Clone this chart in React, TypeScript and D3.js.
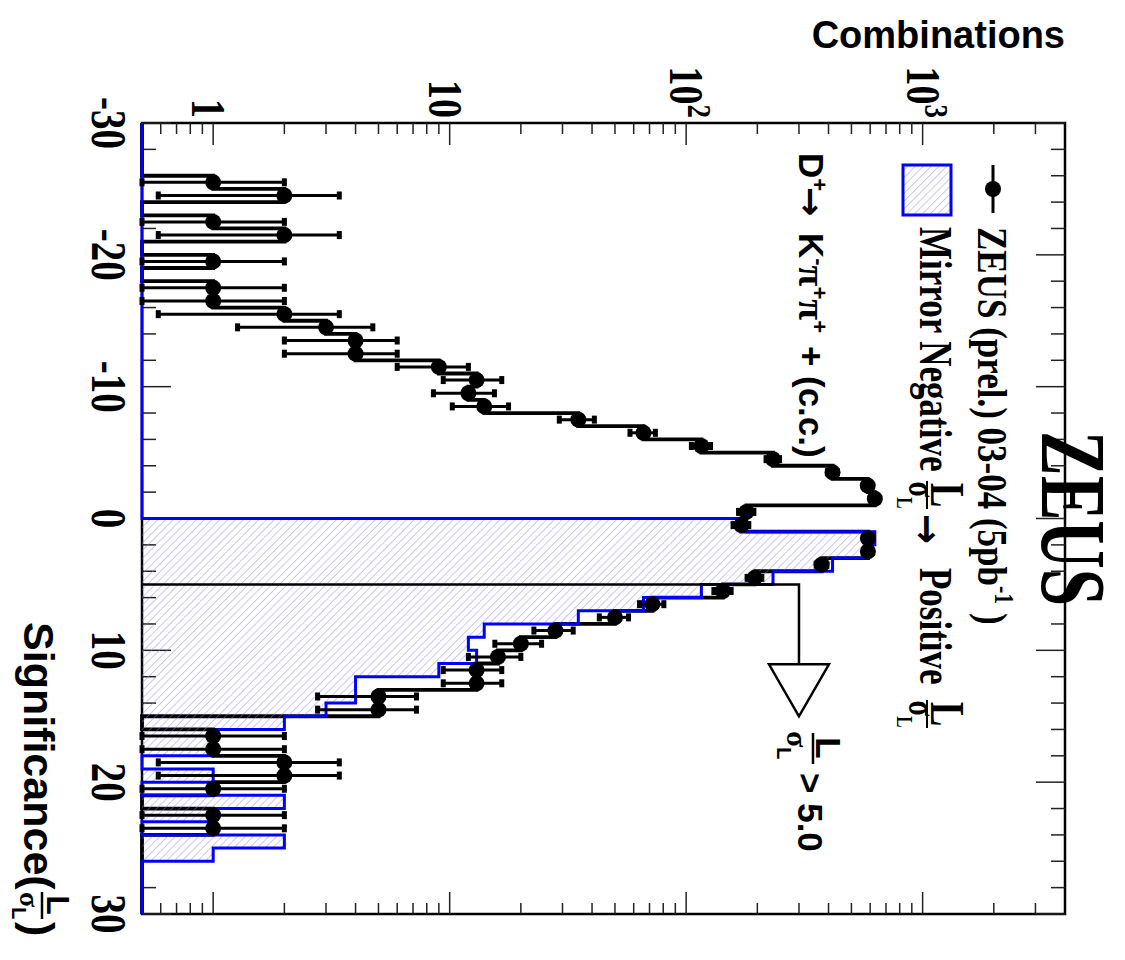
import React from "react";
import * as d3 from "d3";

// ---------------- data ----------------
// 60 bins of width 1 in significance L/sigma_L, from -30 to 30 (low edges)
const binLow = d3.range(-30, 30, 1);
// ZEUS (prel.) 03-04 combinations per bin
const zeusCounts = [
  0, 0, 0, 0, 1, 2, 0, 1, 2, 0,
  1, 0, 1, 1, 2, 3, 4, 4, 9, 13,
  12, 14, 35, 66, 116, 233, 416, 586, 628, 180,
  171, 587, 587, 374, 195, 143, 72, 50, 28, 20,
  16, 13, 13, 5, 5, 0, 1, 1, 2, 2,
  1, 0, 1, 1, 0, 0, 0, 0, 0, 0,
];
// Mirrored negative L/sigma_L distribution
const mirrorCounts = [
  0, 0, 0, 0, 0, 0, 0, 0, 0, 0,
  0, 0, 0, 0, 0, 0, 0, 0, 0, 0,
  0, 0, 0, 0, 0, 0, 0, 0, 0, 0,
  180, 628, 586, 416, 233, 116, 66, 35, 14, 12,
  13, 9, 4, 4, 3, 2, 1, 1, 0, 1,
  0, 2, 1, 0, 2, 1, 0, 0, 0, 0,
];
const sigTicks = d3.range(-30, 31, 2);
const sigLabels = [-30, -20, -10, 0, 10, 20, 30];
const logMajor = [1, 10, 100, 1000];
const logMinor = [0.6, 0.7, 0.8, 0.9, 2, 3, 4, 5, 6, 7, 8, 9, 20, 30, 40, 50, 60, 70, 80, 90,
  200, 300, 400, 500, 600, 700, 800, 900, 2000, 3000];
const logLabels = [
  { v: 1, base: "1", exp: "" },
  { v: 10, base: "10", exp: "" },
  { v: 100, base: "10", exp: "2" },
  { v: 1000, base: "10", exp: "3" },
];
const cutSig = 5.0;
const cutArrowTipSig = 15;
const cutArrowCount = 300;

// ---------------- layout ----------------
const X0 = 142, X1 = 1065, Y0 = 123, Y1 = 914;
const x = d3.scaleLog().domain([0.5, 4000]).range([X0, X1]);
const y = d3.scaleLinear().domain([-30, 30]).range([Y0, Y1]);
const xv = (c: number) => (c > 0.5 ? x(c) : X0);

const serif = "'Liberation Serif', 'DejaVu Serif', serif";
const sans = "'Liberation Sans', Arial, 'DejaVu Sans', sans-serif";
const arrowFont = "'DejaVu Sans', sans-serif";

function stepPoints(counts: number[]): [number, number][] {
  const pts: [number, number][] = [[X0, y(binLow[0])]];
  counts.forEach((c, i) => {
    const px = xv(c);
    pts.push([px, y(binLow[i])], [px, y(binLow[i] + 1)]);
  });
  pts.push([X0, y(binLow[binLow.length - 1] + 1)]);
  return pts;
}

function RT(props: any) {
  const { X, Y, size, family, anchor = "start", sy = 1, children } = props;
  return (
    <text
      transform={`translate(${X},${Y}) rotate(90) scale(1,${sy})`}
      fontSize={size}
      fontFamily={family}
      fontWeight="bold"
      textAnchor={anchor}
      fill="#000"
    >
      {children}
    </text>
  );
}

function SerifFrac(props: any) {
  const { cy, barX, numX, denX, sy } = props;
  return (
    <g>
      <RT X={numX} Y={cy} size={37} family={serif} anchor="middle" sy={sy}>L</RT>
      <line x1={barX} x2={barX} y1={cy - 14} y2={cy + 14} stroke="#000" strokeWidth={2} />
      <RT X={denX} Y={cy} size={29} family={serif} anchor="middle" sy={sy}>
        σ<tspan dy={9} fontSize={17}>L</tspan>
      </RT>
    </g>
  );
}

export default function App() {
  const line = d3.line();
  const zeusStep = line(stepPoints(zeusCounts)) as string;
  const mirrorPts = stepPoints(mirrorCounts);
  const mirrorStep = line(mirrorPts) as string;
  const mirrorFill = mirrorStep + "Z";

  const ax = x(cutArrowCount);
  const yc = y(cutSig);
  const yt = y(cutArrowTipSig);
  const headLen = 52, headHalf = 30;

  return (
    <svg
      width={1125}
      height={960}
      style={{ position: "absolute", left: 0, top: 0 }}
      xmlns="http://www.w3.org/2000/svg"
    >
      <defs>
        <pattern id="hatch" patternUnits="userSpaceOnUse" width={5.5} height={12}
          patternTransform="rotate(45)">
          <line x1={0} y1={0} x2={0} y2={12} stroke="#7f7fff" strokeWidth={0.9} />
        </pattern>
      </defs>
      <rect x={0} y={0} width={1125} height={960} fill="#fff" />

      {/* title */}
      <text x={1065} y={48} textAnchor="end" fontFamily={sans} fontWeight="bold" fontSize={38}>
        Combinations
      </text>

      {/* frame */}
      <rect x={X0} y={Y0} width={X1 - X0} height={Y1 - Y0} fill="none" stroke="#000" strokeWidth={2.5} />

      {/* significance ticks (left and right) */}
      {sigTicks.map((t) => {
        const len = t % 10 === 0 ? 29 : 14;
        return (
          <g key={"st" + t}>
            <line x1={X0} x2={X0 + len} y1={y(t)} y2={y(t)} stroke="#222" strokeWidth={1.5} />
            <line x1={X1} x2={X1 - len} y1={y(t)} y2={y(t)} stroke="#222" strokeWidth={1.5} />
          </g>
        );
      })}
      {/* log ticks (top and bottom) */}
      {logMajor.concat(logMinor).map((v) => {
        const len = logMajor.includes(v) ? 22 : 11;
        return (
          <g key={"lt" + v}>
            <line x1={x(v)} x2={x(v)} y1={Y0} y2={Y0 + len} stroke="#222" strokeWidth={1.5} />
            <line x1={x(v)} x2={x(v)} y1={Y1} y2={Y1 - len} stroke="#222" strokeWidth={1.5} />
          </g>
        );
      })}

      {/* log axis labels */}
      {logLabels.map((l) => (
        <RT key={"ll" + l.v} X={x(l.v) - (l.exp ? 16 : 21)} Y={118} size={38} family={serif}
          anchor="end" sy={1.28}>
          {l.base}
          {l.exp ? <tspan dy={-14} fontSize={27}>{l.exp}</tspan> : null}
        </RT>
      ))}
      {/* significance labels */}
      {sigLabels.map((v) => (
        <RT key={"sl" + v} X={92} Y={y(v)} size={39} family={serif} anchor="middle" sy={1.32}>
          {String(v)}
        </RT>
      ))}

      {/* axis title */}
      <RT X={24} Y={622} size={43} family={sans}>Significance(</RT>
      <RT X={47} Y={905} size={32} family={sans} anchor="middle">L</RT>
      <line x1={42} x2={42} y1={892} y2={919} stroke="#000" strokeWidth={2.5} />
      <RT X={20} Y={892} size={28} family={serif}>
        σ<tspan dy={8} fontSize={20} fontFamily={sans}>L</tspan>
      </RT>
      <RT X={24} Y={922} size={43} family={sans}>)</RT>

      {/* ZEUS data: step line */}
      <path d={zeusStep} fill="none" stroke="#000" strokeWidth={3.8} />

      {/* mirror histogram */}
      <path d={mirrorFill} fill="url(#hatch)" stroke="none" />
      <path d={mirrorStep} fill="none" stroke="#0000ff" strokeWidth={3} />

      {/* error bars and markers */}
      {zeusCounts.map((c, i) => {
        if (c <= 0) return null;
        const cy = y(binLow[i] + 0.5);
        const e = Math.sqrt(c);
        const xl = xv(c - e);
        const xh = x(c + e);
        return (
          <g key={"eb" + i}>
            <line x1={xl} x2={xh} y1={cy} y2={cy} stroke="#000" strokeWidth={3} />
            <rect x={xl - 2.5} y={cy - 4} width={5} height={8} fill="#000" />
            <rect x={xh - 2.5} y={cy - 4} width={5} height={8} fill="#000" />
          </g>
        );
      })}
      {zeusCounts.map((c, i) =>
        c > 0 ? <circle key={"mk" + i} cx={x(c)} cy={y(binLow[i] + 0.5)} r={8} fill="#000" /> : null
      )}

      {/* cut line and arrow */}
      <polyline points={`${X0},${yc} ${ax},${yc} ${ax},${yt - headLen}`} fill="none" stroke="#000" strokeWidth={2.5} />
      <polygon
        points={`${ax - headHalf},${yt - headLen} ${ax + headHalf},${yt - headLen} ${ax},${yt}`}
        fill="#fff" stroke="#000" strokeWidth={2.5} />
      <RT X={816} Y={748} size={35} family={sans} anchor="middle">L</RT>
      <line x1={813} x2={813} y1={733} y2={764} stroke="#000" strokeWidth={2.5} />
      <RT X={787} Y={731} size={30} family={serif}>
        σ<tspan dy={10} fontSize={20} fontFamily={sans}>L</tspan>
      </RT>
      <RT X={798} Y={773} size={35} family={sans}>&gt; 5.0</RT>

      {/* decay channel */}
      <RT X={799} Y={0} size={35} family={sans}>
        <tspan x={153}>D</tspan>
        <tspan dy={-13} fontSize={22}>+</tspan>
        <tspan x={187} dy={13} fontFamily={arrowFont}>→</tspan>
        <tspan x={233}>K</tspan>
        <tspan dy={-13} fontSize={22}>-</tspan>
        <tspan dy={13} fontFamily={serif} fontSize={38}>π</tspan>
        <tspan dy={-13} fontSize={22}>+</tspan>
        <tspan dy={13} fontFamily={serif} fontSize={38}>π</tspan>
        <tspan dy={-13} fontSize={22}>+</tspan>
        <tspan x={346} dy={13}>+</tspan>
        <tspan x={376}>(c.c.)</tspan>
      </RT>

      {/* big ZEUS */}
      <RT X={1042} Y={518.5} size={67} family={serif} anchor="middle" sy={1.38}>ZEUS</RT>

      {/* legend */}
      <line x1={993} x2={993} y1={165} y2={213} stroke="#000" strokeWidth={3} />
      <circle cx={993} cy={189} r={8} fill="#000" />
      <RT X={978} Y={227} size={35} family={serif} sy={1.2}>
        ZEUS (prel.) 03-04 (5pb
        <tspan dy={-14} fontSize={22}>-1</tspan>
        <tspan dy={14}> )</tspan>
      </RT>
      <rect x={903} y={165} width={48} height={50} fill="url(#hatch)" stroke="#0000ff" strokeWidth={3} />
      <RT X={920} Y={227} size={35} family={serif} sy={1.35}>Mirror Negative</RT>
      <SerifFrac cy={495} barX={927} numX={931} denX={909} sy={1.3} />
      <RT X={914} Y={514} size={36} family={arrowFont} sy={1.1}>→</RT>
      <RT X={920} Y={568} size={35} family={serif} sy={1.35}>Positive</RT>
      <SerifFrac cy={714} barX={927} numX={931} denX={909} sy={1.3} />
    </svg>
  );
}
